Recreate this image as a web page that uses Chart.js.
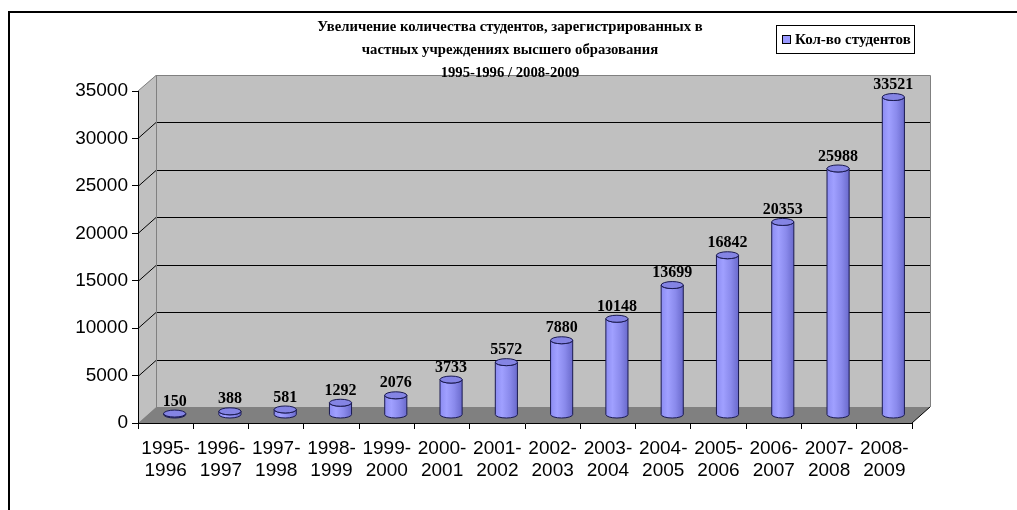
<!DOCTYPE html>
<html>
<head>
<meta charset="utf-8">
<script src="https://cdn.jsdelivr.net/npm/chart.js@4.4.0/dist/chart.umd.min.js"></script>
<style>
body{margin:0;background:#fff;}
#wrap{width:1017px;height:510px;}
</style>
</head>
<body>
<div id="wrap"><canvas id="myChart" width="1017" height="510"></canvas></div>
<script>
'use strict';
//data
let years=['1995-1996','1996-1997','1997-1998','1998-1999','1999-2000','2000-2001','2001-2002',
  '2002-2003','2003-2004','2004-2005','2005-2006','2006-2007','2007-2008','2008-2009'];
let students=[150,388,581,1292,2076,3733,5572,7880,10148,13699,16842,20353,25988,33521];
let yTicks=[0,5000,10000,15000,20000,25000,30000,35000];
let titleLines=['Увеличение количества студентов, зарегистрированных в',
  'частных учреждениях высшего образования',
  '1995-1996 / 2008-2009'];
let legendText='Кол-во студентов';

//3d depth of the box
let depthX=18;
let depthY=16;

let box3d={
  id:'box3d',
  beforeDraw(chart){
    let ctx=chart.ctx;
    let a=chart.chartArea;
    let y=chart.scales.y;
    ctx.save();
    ctx.fillStyle='#fff';
    ctx.fillRect(0,0,chart.width,chart.height);
    //outer frame
    ctx.strokeStyle='#000';
    ctx.lineWidth=2;
    ctx.beginPath();
    ctx.moveTo(9,chart.height+5);
    ctx.lineTo(9,12);
    ctx.lineTo(chart.width+5,12);
    ctx.stroke();

    //back wall + side wall
    ctx.fillStyle='#c0c0c0';
    ctx.fillRect(a.left+depthX,a.top-depthY,a.right-a.left,a.bottom-a.top);
    ctx.beginPath();
    ctx.moveTo(a.left,a.top);
    ctx.lineTo(a.left+depthX,a.top-depthY);
    ctx.lineTo(a.left+depthX,a.bottom-depthY);
    ctx.lineTo(a.left,a.bottom);
    ctx.closePath();
    ctx.fill();

    //floor
    ctx.fillStyle='#808080';
    ctx.beginPath();
    ctx.moveTo(a.left,a.bottom);
    ctx.lineTo(a.left+depthX,a.bottom-depthY);
    ctx.lineTo(a.right+depthX,a.bottom-depthY);
    ctx.lineTo(a.right,a.bottom);
    ctx.closePath();
    ctx.fill();

    //grid lines
    ctx.lineWidth=1;
    ctx.strokeStyle='#000';
    for(let i=1;i<yTicks.length-1;i++){
      let py=Math.round(y.getPixelForValue(yTicks[i]))+0.5;
      ctx.beginPath();
      ctx.moveTo(a.left,py);
      ctx.lineTo(a.left+depthX,py-depthY);
      ctx.lineTo(a.right+depthX,py-depthY);
      ctx.stroke();
    }
    //edges
    ctx.strokeStyle='#808080';
    ctx.beginPath();
    ctx.moveTo(a.left,a.top);
    ctx.lineTo(a.left+depthX,a.top-depthY+0.5);
    ctx.lineTo(a.right+depthX+0.5,a.top-depthY+0.5);
    ctx.lineTo(a.right+depthX+0.5,a.bottom-depthY);
    ctx.moveTo(a.left+depthX+0.5,a.top-depthY);
    ctx.lineTo(a.left+depthX+0.5,a.bottom-depthY);
    ctx.stroke();
    ctx.strokeStyle='#000';
    ctx.beginPath();
    ctx.moveTo(a.right,a.bottom);
    ctx.lineTo(a.right+depthX,a.bottom-depthY);
    ctx.stroke();
    ctx.restore();
  },
  afterDatasetsDraw(chart){
    let ctx=chart.ctx;
    let bars=chart.getDatasetMeta(0).data;
    ctx.save();
    for(let i=0;i<bars.length;i++){
      let el=bars[i];
      let cx=el.x+depthX/2;
      let top=el.y-depthY/2;
      let bottom=el.base-depthY/2;
      let rx=el.width/2;
      let ry=3.5;
      let grad=ctx.createLinearGradient(cx-rx,0,cx+rx,0);
      grad.addColorStop(0,'#8c8cf2');
      grad.addColorStop(0.3,'#a0a0ff');
      grad.addColorStop(0.65,'#8a8aec');
      grad.addColorStop(1,'#6a6acc');
      ctx.beginPath();
      ctx.moveTo(cx-rx,top);
      ctx.lineTo(cx-rx,bottom);
      ctx.ellipse(cx,bottom,rx,ry,0,Math.PI,0,true);
      ctx.lineTo(cx+rx,top);
      ctx.ellipse(cx,top,rx,ry,0,0,Math.PI,false);
      ctx.closePath();
      ctx.fillStyle=grad;
      ctx.fill();
      ctx.strokeStyle='#1a1a50';
      ctx.lineWidth=1;
      ctx.stroke();
      ctx.beginPath();
      ctx.ellipse(cx,top,rx,ry,0,0,Math.PI*2);
      ctx.fillStyle='#8484e4';
      ctx.fill();
      ctx.stroke();

      //value label
      ctx.fillStyle='#000';
      ctx.font='bold 16px "Liberation Serif"';
      ctx.textAlign='center';
      ctx.textBaseline='bottom';
      ctx.fillText(String(students[i]),cx,top-ry-0.5);
    }
    ctx.restore();
  },
  afterDraw(chart){
    let ctx=chart.ctx;
    ctx.save();
    //title
    ctx.fillStyle='#000';
    ctx.font='bold 14.7px "Liberation Serif"';
    ctx.textAlign='center';
    ctx.textBaseline='middle';
    for(let i=0;i<titleLines.length;i++){
      ctx.fillText(titleLines[i],510,27+i*23);
    }
    //legend
    ctx.fillStyle='#fff';
    ctx.fillRect(776,25,138,28);
    ctx.strokeStyle='#000';
    ctx.lineWidth=1;
    ctx.strokeRect(776.5,25.5,138,28);
    ctx.fillStyle='#9999ff';
    ctx.fillRect(782.5,35.5,8,8);
    ctx.strokeRect(782.5,35.5,8,8);
    ctx.fillStyle='#000';
    ctx.font='bold 15px "Liberation Serif"';
    ctx.textAlign='left';
    ctx.fillText(legendText,795,40);
    ctx.restore();
  }
};

let ctx=document.getElementById('myChart').getContext('2d');
let myChart=new Chart(ctx,{
  type:'bar',
  data:{
    labels:years,
    datasets:[{
      label:legendText,
      data:students,
      backgroundColor:'rgba(0,0,0,0)',
      borderWidth:0,
      categoryPercentage:1,
      barPercentage:0.4
    }]
  },
  options:{
    responsive:false,
    animation:false,
    devicePixelRatio:1,
    layout:{padding:{left:0,top:91,right:105,bottom:0}},
    plugins:{legend:{display:false},title:{display:false},tooltip:{enabled:false}},
    scales:{
      x:{
        grid:{offset:true,drawOnChartArea:false,tickLength:6,color:'#000'},
        border:{color:'#000',width:1},
        ticks:{
          color:'#000',
          font:{family:'"Liberation Sans"',size:19},
          padding:8,
          maxRotation:0,
          autoSkip:false,
          callback:function(v,i){
            let p=years[i].split('-');
            return [p[0]+'-',p[1]];
          }
        },
        afterFit:function(scale){scale.height=87;}
      },
      y:{
        min:0,
        max:35000,
        grid:{drawOnChartArea:false,tickLength:6,color:'#000'},
        border:{color:'#000',width:1},
        ticks:{
          color:'#000',
          font:{family:'"Liberation Sans"',size:19},
          padding:4,
          callback:function(v){return String(v);}
        },
        afterBuildTicks:function(scale){
          scale.ticks=yTicks.map(function(v){return {value:v};});
        },
        afterFit:function(scale){scale.width=138;}
      }
    }
  },
  plugins:[box3d]
});
</script>
</body>
</html>
